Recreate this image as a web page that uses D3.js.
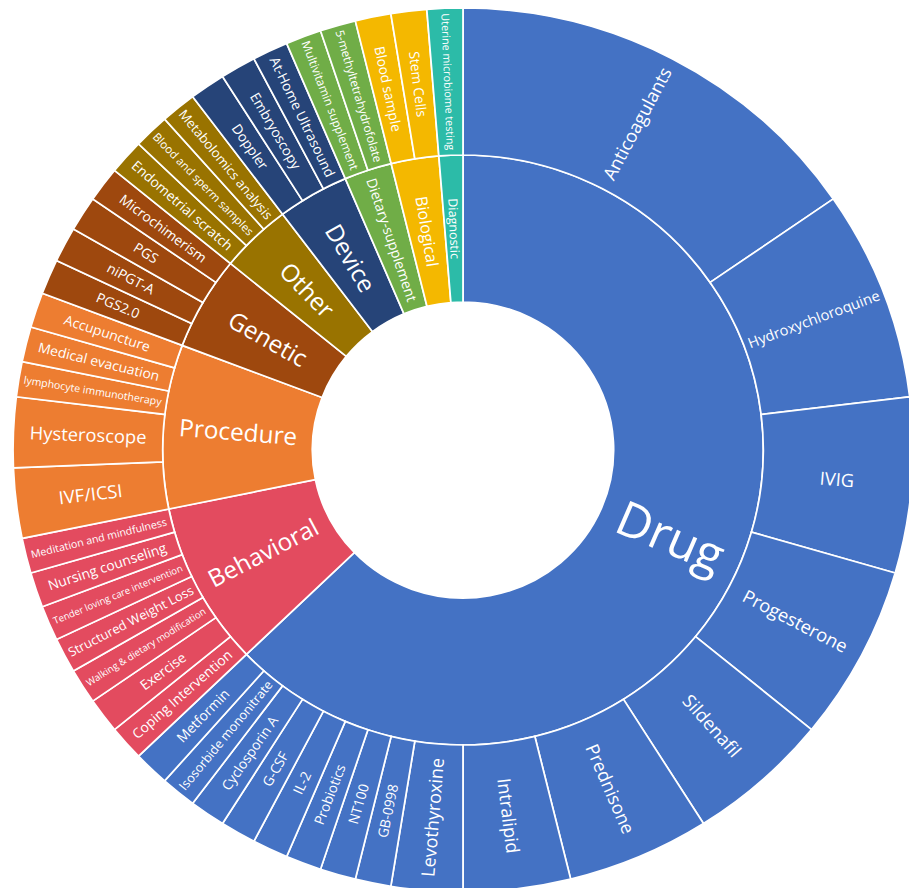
<!DOCTYPE html>
<html>
<head>
<meta charset="utf-8">
<script src="https://cdn.jsdelivr.net/npm/d3@7"></script>
<style>
  html, body { margin: 0; padding: 0; background: #ffffff; }
  svg { display: block; }
  text { font-family: "Segoe UI", "Open Sans", "Noto Sans", sans-serif; fill: #ffffff; }
</style>
</head>
<body>
<svg id="chart" width="909" height="888"></svg>
<script>
// Intervention categories (inner ring), in drawing order clockwise from 12 o'clock
const categories = ["Drug", "Behavioral", "Procedure", "Genetic", "Other", "Device",
                    "Dietary-supplement", "Biological", "Diagnostic"];

// Interventions per category (outer ring) and their study counts
const drugNames = ["Anticoagulants", "Hydroxychloroquine", "IVIG", "Progesterone", "Sildenafil",
                   "Prednisone", "Intralipid", "Levothyroxine", "GB-0998", "NT100", "Probiotics",
                   "IL-2", "G-CSF", "Cyclosporin A", "Isosorbide mononitrate", "Metformin"];
const drugCounts = [12, 6, 5, 5, 4, 4, 3, 2, 1, 1, 1, 1, 1, 1, 1, 1];

const behavioralNames = ["Coping Intervention", "Exercise", "Walking & dietary modification",
                         "Structured  Weight Loss", "Tender  loving care intervention",
                         "Nursing counseling", "Meditation and mindfulness"];
const behavioralCounts = [1, 1, 1, 1, 1, 1, 1];

const procedureNames = ["IVF/ICSI", "Hysteroscope", "lymphocyte immunotherapy",
                        "Medical evacuation", "Accupuncture"];
const procedureCounts = [2, 2, 1, 1, 1];

const geneticNames = ["PGS2.0", "niPGT-A", "PGS", "Microchimerism"];
const geneticCounts = [1, 1, 1, 1];

const otherNames = ["Endometrial scratch", "Blood and sperm samples", "Metabolomics  analysis"];
const otherCounts = [1, 1, 1];

const deviceNames = ["Doppler", "Embryoscopy", "At-Home  Ultrasound"];
const deviceCounts = [1, 1, 1];

const dietaryNames = ["Multivitamin supplement", "5-methyltetrahydrofolate"];
const dietaryCounts = [1, 1];

const biologicalNames = ["Blood sample", "Stem Cells"];
const biologicalCounts = [1, 1];

const diagnosticNames = ["Uterine microbiome testing"];
const diagnosticCounts = [1];

const itemNames = [drugNames, behavioralNames, procedureNames, geneticNames, otherNames,
                   deviceNames, dietaryNames, biologicalNames, diagnosticNames];
const itemCounts = [drugCounts, behavioralCounts, procedureCounts, geneticCounts, otherCounts,
                    deviceCounts, dietaryCounts, biologicalCounts, diagnosticCounts];

// Category colours
const palette = ["#4472C4", "#E34B5F", "#ED7D31", "#9E480E", "#997300", "#264478",
                 "#70AD47", "#F4B800", "#2CBBA8"];

// ---- layout ----
const width = 909, height = 888;
const cx = 463, cy = 450;
const stretchX = 1.018;          // the figure is drawn very slightly wider than tall
const rHole = 148, rMid = 295, rOuter = 442;

const data = {
  name: "root",
  children: categories.map((c, i) => ({
    name: c,
    children: itemNames[i].map((n, j) => ({ name: n, value: itemCounts[i][j] }))
  }))
};

const root = d3.hierarchy(data).sum(d => d.value || 0);
d3.partition().size([2 * Math.PI, 3])(root);

const radius = d3.scaleLinear().domain([1, 3]).range([rHole, rOuter]);
const color = d3.scaleOrdinal().domain(categories).range(palette);
const catOf = d => d.depth === 1 ? d.data.name : d.parent.data.name;

const arc = d3.arc()
  .startAngle(d => d.x0)
  .endAngle(d => d.x1)
  .innerRadius(d => radius(d.y0))
  .outerRadius(d => radius(d.y1));

const svg = d3.select("#chart");
const g = svg.append("g")
  .attr("transform", `translate(${cx},${cy}) scale(${stretchX},1)`);

const nodes = root.descendants().filter(d => d.depth > 0);

g.append("g")
  .selectAll("path")
  .data(nodes)
  .join("path")
  .attr("d", arc)
  .attr("fill", d => color(catOf(d)))
  .attr("stroke", "#ffffff")
  .attr("stroke-width", 1.7)
  .attr("stroke-linejoin", "miter");

// Radial labels: text runs along the radius, flipped on the left half so it stays upright
const labels = g.append("g")
  .selectAll("text")
  .data(nodes)
  .join("text")
  .attr("text-anchor", "middle")
  .attr("dy", "0.35em")
  .text(d => d.data.name);

labels.each(function (d) {
  const el = d3.select(this);
  const aDeg = (d.x0 + d.x1) / 2 * 180 / Math.PI;
  const r0 = radius(d.y0), r1 = radius(d.y1);
  const rm = (r0 + r1) / 2;
  const band = rm * (d.x1 - d.x0);               // arc width across the label
  const isLeaf = d.depth === 2;

  el.attr("font-size", 10);
  const w10 = this.getComputedTextLength();
  const avail = (r1 - r0) - (isLeaf ? 10 : 18);
  const byLength = 10 * avail / w10;
  let cap, k, floor;
  if (isLeaf) { cap = 18; k = 0.46; floor = 9; }
  else {
    cap = d.value / root.value > 0.5 ? 48 : 24;
    k = 0.45; floor = 12.5;
  }
  let fs = Math.min(cap, k * band, byLength);
  fs = Math.max(fs, Math.min(floor, byLength));
  el.attr("font-size", fs.toFixed(2));

  const a = aDeg * Math.PI / 180;
  const x = Math.sin(a) * rm, y = -Math.cos(a) * rm;
  const rot = aDeg < 180 ? aDeg - 90 : aDeg - 270;
  el.attr("transform", `translate(${x.toFixed(2)},${y.toFixed(2)}) rotate(${rot.toFixed(2)})`);
});
</script>
</body>
</html>
